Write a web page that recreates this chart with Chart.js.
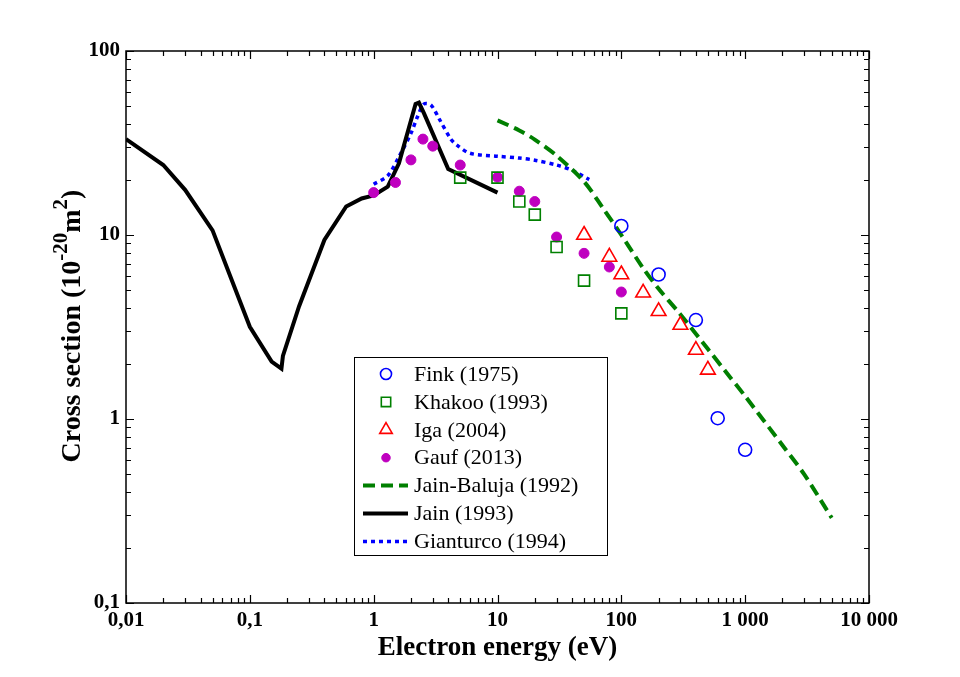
<!DOCTYPE html>
<html>
<head>
<meta charset="utf-8">
<script src="https://cdn.jsdelivr.net/npm/chart.js@4.4.1/dist/chart.umd.min.js"></script>
<style>
  html, body { margin: 0; padding: 0; background: #fff; }
  #wrap { width: 960px; height: 677px; }
</style>
</head>
<body>
<div id="wrap"><canvas id="c" width="960" height="677"></canvas></div>
<script>
// Electron scattering cross sections (eV, 1e-20 m^2).
const finkE = [100, 200, 400, 600, 1000];
const finkS = [11.2, 6.1, 3.45, 1.01, 0.68];

const khakooE = [5, 10, 15, 20, 30, 50, 100];
const khakooS = [20.5, 20.5, 15.2, 12.9, 8.6, 5.65, 3.75];

const igaE = [50, 80, 100, 150, 200, 300, 400, 500];
const igaS = [10.0, 7.6, 6.1, 4.85, 3.85, 3.24, 2.37, 1.85];

const gaufE = [1, 1.5, 2, 2.5, 3, 5, 10, 15, 20, 30, 50, 80, 100];
const gaufS = [17.0, 19.3, 25.6, 33.2, 30.4, 24.0, 20.6, 17.3, 15.2, 9.75, 7.95, 6.7, 4.9];

const jainBalujaE = [10, 15, 20, 30, 50, 70, 100, 150, 200, 300, 500, 700, 1000, 2000, 3000, 5000];
const jainBalujaS = [42, 37, 33, 27, 19.5, 14.2, 10, 6.6, 5.1, 3.7, 2.4, 1.8, 1.33, 0.72, 0.5, 0.29];

const jainE = [0.01, 0.02, 0.03, 0.05, 0.07, 0.1, 0.15, 0.18, 0.185, 0.25, 0.4, 0.6, 0.8, 1.0, 1.3, 1.6, 2.18, 2.32, 2.55, 4, 10];
const jainS = [33.2, 24.0, 17.6, 10.6, 5.9, 3.17, 2.05, 1.88, 2.2, 4.1, 9.4, 14.3, 15.8, 16.4, 18.3, 24.5, 51.5, 52.4, 45.8, 22.8, 17.0];

const giantE = [1.0, 1.3, 1.6, 2.0, 2.25, 2.55, 2.9, 3.4, 4.2, 4.7, 6, 10, 15, 20, 30, 40, 55];
const giantS = [18.9, 21.0, 26.6, 35.7, 43.6, 51.5, 50.9, 42.5, 33.2, 30.8, 27.8, 26.8, 26.2, 25.5, 24.0, 22.5, 20.0];

const xTickValues = [0.01, 0.1, 1, 10, 100, 1000, 10000];
const xTickLabels = ['0,01', '0,1', '1', '10', '100', '1 000', '10 000'];
const yTickValues = [0.1, 1, 10, 100];
const yTickLabels = ['0,1', '1', '10', '100'];

const xTitle = 'Electron energy (eV)';

const FONT = "'Liberation Serif', 'DejaVu Serif', serif";

function pairs(xs, ys) {
  return xs.map((x, i) => ({ x, y: ys[i] }));
}

const datasets = [
  { label: 'Fink (1975)', data: pairs(finkE, finkS), showLine: false,
    pointStyle: 'circle', pointRadius: 6.5, pointBorderColor: '#0000FF',
    pointBackgroundColor: 'rgba(0,0,0,0)', pointBorderWidth: 1.6 },
  { label: 'Khakoo (1993)', data: pairs(khakooE, khakooS), showLine: false,
    pointStyle: 'rect', pointRadius: 7.8, pointBorderColor: '#008000',
    pointBackgroundColor: 'rgba(0,0,0,0)', pointBorderWidth: 1.6 },
  { label: 'Iga (2004)', data: pairs(igaE, igaS), showLine: false,
    pointStyle: 'triangle', pointRadius: 8.5, pointBorderColor: '#FF0000',
    pointBackgroundColor: 'rgba(0,0,0,0)', pointBorderWidth: 1.6 },
  { label: 'Gauf (2013)', data: pairs(gaufE, gaufS), showLine: false,
    pointStyle: 'circle', pointRadius: 5, pointBorderColor: '#BF00BF',
    pointBackgroundColor: '#BF00BF', pointBorderWidth: 1 },
  { label: 'Jain-Baluja (1992)', data: pairs(jainBalujaE, jainBalujaS),
    borderColor: '#007F00', borderWidth: 4, borderDash: [12, 6],
    pointRadius: 0, tension: 0.3, fill: false },
  { label: 'Jain (1993)', data: pairs(jainE, jainS),
    borderColor: '#000000', borderWidth: 4, pointRadius: 0, tension: 0, fill: false },
  { label: 'Gianturco (1994)', data: pairs(giantE, giantS),
    borderColor: '#0000FF', borderWidth: 3.5, borderDash: [4, 4],
    pointRadius: 0, tension: 0.3, fill: false },
];

// Frame and inward ticks on all four sides (major at decades, minor 2..9).
const framePlugin = {
  id: 'frame',
  afterDraw(chart) {
    const { ctx, chartArea: a } = chart;
    const xs = chart.scales.x, ys = chart.scales.y;
    ctx.save();
    ctx.strokeStyle = '#000';
    ctx.lineWidth = 1.5;
    ctx.strokeRect(a.left, a.top, a.right - a.left, a.bottom - a.top);
    ctx.lineWidth = 1.2;
    ctx.beginPath();
    for (let n = -2; n <= 4; n++) {
      for (let k = 1; k <= 9; k++) {
        const v = k * Math.pow(10, n);
        if (v < xs.min * 0.999 || v > xs.max * 1.001) continue;
        const px = Math.round(xs.getPixelForValue(v)) + 0.5;
        const len = k === 1 ? 8 : 5;
        ctx.moveTo(px, a.bottom); ctx.lineTo(px, a.bottom - len);
        ctx.moveTo(px, a.top); ctx.lineTo(px, a.top + len);
      }
    }
    for (let n = -1; n <= 2; n++) {
      for (let k = 1; k <= 9; k++) {
        const v = k * Math.pow(10, n);
        if (v < ys.min * 0.999 || v > ys.max * 1.001) continue;
        const py = Math.round(ys.getPixelForValue(v)) + 0.5;
        const len = k === 1 ? 8 : 5;
        ctx.moveTo(a.left, py); ctx.lineTo(a.left + len, py);
        ctx.moveTo(a.right, py); ctx.lineTo(a.right - len, py);
      }
    }
    ctx.stroke();
    ctx.restore();
  },
};

// Y title with superscripts, drawn as real canvas text.
const yTitlePlugin = {
  id: 'yTitle',
  afterDraw(chart) {
    const ctx = chart.ctx;
    const big = "bold 28px " + FONT;
    const small = "bold 21px " + FONT;
    const parts = [
      { t: 'Cross section (10', f: big, dy: 0 },
      { t: '-20', f: small, dy: -13 },
      { t: 'm', f: big, dy: 0 },
      { t: '2', f: small, dy: -13 },
      { t: ')', f: big, dy: 0 },
    ];
    ctx.save();
    let total = 0;
    parts.forEach((p) => { ctx.font = p.f; p.w = ctx.measureText(p.t).width; total += p.w; });
    ctx.translate(80, 326);
    ctx.rotate(-Math.PI / 2);
    ctx.fillStyle = '#000';
    ctx.textBaseline = 'alphabetic';
    let x = -total / 2;
    parts.forEach((p) => {
      ctx.font = p.f;
      ctx.fillText(p.t, x, p.dy);
      x += p.w;
    });
    ctx.restore();
  },
};

// Boxed legend inside the plot.
const legendPlugin = {
  id: 'boxLegend',
  afterDraw(chart) {
    const ctx = chart.ctx;
    const box = { x: 354.5, y: 357.5, w: 253, h: 198 };
    ctx.save();
    ctx.fillStyle = '#fff';
    ctx.fillRect(box.x, box.y, box.w, box.h);
    ctx.strokeStyle = '#000';
    ctx.lineWidth = 1;
    ctx.strokeRect(box.x, box.y, box.w, box.h);
    ctx.font = "22px " + FONT;
    ctx.textBaseline = 'middle';
    chart.data.datasets.forEach((ds, i) => {
      const cy = 374 + i * 27.9;
      if (ds.showLine === false) {
        ctx.strokeStyle = ds.pointBorderColor;
        ctx.fillStyle = ds.pointBackgroundColor;
        ctx.lineWidth = ds.pointBorderWidth;
        ctx.setLineDash([]);
        Chart.helpers.drawPoint(ctx, {
          pointStyle: ds.pointStyle, radius: ds.pointRadius * 0.85,
          rotation: 0, borderWidth: ds.pointBorderWidth,
        }, 386, cy);
      } else {
        ctx.strokeStyle = ds.borderColor;
        ctx.lineWidth = ds.borderWidth;
        ctx.setLineDash(ds.borderDash || []);
        ctx.beginPath();
        ctx.moveTo(363, cy);
        ctx.lineTo(408, cy);
        ctx.stroke();
        ctx.setLineDash([]);
      }
      ctx.fillStyle = '#000';
      ctx.fillText(ds.label, 414, cy + 1);
    });
    ctx.restore();
  },
};

new Chart(document.getElementById('c'), {
  type: 'line',
  data: { datasets },
  options: {
    responsive: false,
    animation: false,
    layout: { padding: { left: 0, right: 91, top: 51, bottom: 0 } },
    scales: {
      x: {
        type: 'logarithmic', min: 0.01, max: 10000,
        grid: { display: false, drawTicks: false },
        border: { display: false },
        afterBuildTicks(scale) { scale.ticks = xTickValues.map((v) => ({ value: v })); },
        afterFit(scale) { scale.height = 74; },
        ticks: {
          padding: 5, color: '#000', maxRotation: 0, autoSkip: false,
          font: { family: FONT, size: 21, weight: 'bold' },
          callback: (v) => xTickLabels[xTickValues.indexOf(v)] ?? '',
        },
        title: {
          display: true, text: xTitle, color: '#000',
          font: { family: FONT, size: 27, weight: 'bold' },
          padding: { top: 0, bottom: 13 },
        },
      },
      y: {
        type: 'logarithmic', min: 0.1, max: 100,
        grid: { display: false, drawTicks: false },
        border: { display: false },
        afterBuildTicks(scale) { scale.ticks = yTickValues.map((v) => ({ value: v })); },
        afterFit(scale) { scale.width = 126; },
        ticks: {
          padding: 6, color: '#000', autoSkip: false,
          font: { family: FONT, size: 21, weight: 'bold' },
          callback: (v) => yTickLabels[yTickValues.indexOf(v)] ?? '',
        },
      },
    },
    plugins: { legend: { display: false }, tooltip: { enabled: false } },
  },
  plugins: [framePlugin, yTitlePlugin, legendPlugin],
});
</script>
</body>
</html>
